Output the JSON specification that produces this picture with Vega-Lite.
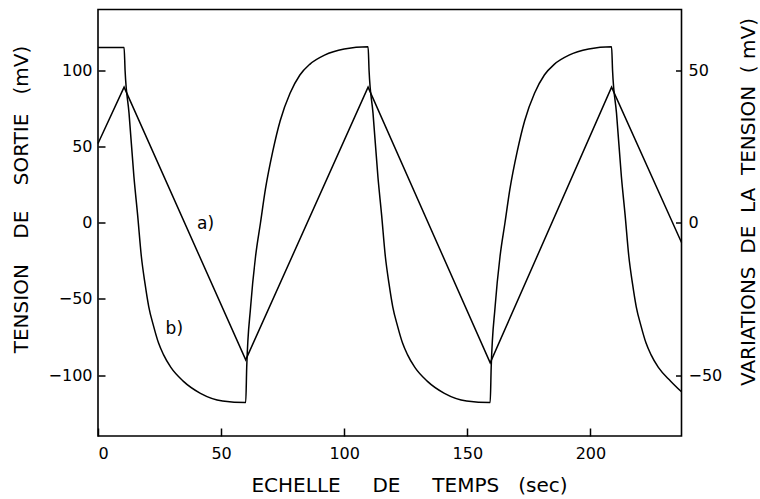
{
  "$schema": "https://vega.github.io/schema/vega-lite/v6.json",
  "width": 583.5,
  "height": 426.5,
  "autosize": "none",
  "padding": {"left": 98, "top": 9.5, "right": 78.5, "bottom": 63},
  "background": "white",
  "config": {
    "font": "DejaVu Sans",
    "view": {"stroke": "black", "strokeWidth": 1.6},
    "axis": {
      "grid": false,
      "domain": false,
      "tickColor": "black",
      "tickWidth": 1.5,
      "labelColor": "black",
      "titleColor": "black",
      "labelFont": "DejaVu Sans",
      "titleFont": "DejaVu Sans",
      "labelFontSize": 16,
      "titleFontSize": 20,
      "titleFontWeight": "normal",
      "titleBaseline": "middle",
      "titleAlign": "center"
    }
  },
  "datasets": {
    "a": [
      {"t": 0, "v": 52}, {"t": 10.6, "v": 89}, {"t": 60, "v": -90}, {"t": 109.7, "v": 89},
      {"t": 159.3, "v": -92}, {"t": 208.6, "v": 89}, {"t": 237, "v": -13}
    ],
    "b": [
      {"t": 0, "v": 115}, {"t": 10.6, "v": 115},
      {"t": 11.0, "v": 100}, {"t": 12.6, "v": 72}, {"t": 14.6, "v": 30}, {"t": 16.1, "v": 5},
      {"t": 17.6, "v": -22}, {"t": 19.1, "v": -40}, {"t": 20.6, "v": -55}, {"t": 22.6, "v": -68},
      {"t": 24.6, "v": -79}, {"t": 26.6, "v": -86.6}, {"t": 29.6, "v": -95}, {"t": 34.6, "v": -104},
      {"t": 41.6, "v": -112}, {"t": 50.6, "v": -117}, {"t": 60.0, "v": -118},
      {"t": 60.4, "v": -95}, {"t": 62, "v": -55}, {"t": 64, "v": -22}, {"t": 66, "v": 0},
      {"t": 68, "v": 22}, {"t": 71, "v": 47}, {"t": 74, "v": 67}, {"t": 78, "v": 85},
      {"t": 82, "v": 97}, {"t": 86, "v": 104}, {"t": 92, "v": 110}, {"t": 100, "v": 114},
      {"t": 109.7, "v": 115.5},
      {"t": 110.1, "v": 100}, {"t": 111.7, "v": 72}, {"t": 113.7, "v": 30}, {"t": 115.2, "v": 5},
      {"t": 116.7, "v": -22}, {"t": 118.2, "v": -40}, {"t": 119.7, "v": -55}, {"t": 121.7, "v": -68},
      {"t": 123.7, "v": -79}, {"t": 125.7, "v": -86.6}, {"t": 128.7, "v": -95}, {"t": 133.7, "v": -104},
      {"t": 140.7, "v": -112}, {"t": 149.7, "v": -117}, {"t": 159.3, "v": -118},
      {"t": 159.7, "v": -95}, {"t": 161.3, "v": -55}, {"t": 163.3, "v": -22}, {"t": 165.3, "v": 0},
      {"t": 167.3, "v": 22}, {"t": 170.3, "v": 47}, {"t": 173.3, "v": 67}, {"t": 177.3, "v": 85},
      {"t": 181.3, "v": 97}, {"t": 185.3, "v": 104}, {"t": 191.3, "v": 110}, {"t": 199.3, "v": 114},
      {"t": 208.6, "v": 115.5},
      {"t": 209.0, "v": 100}, {"t": 210.6, "v": 72}, {"t": 212.6, "v": 30}, {"t": 214.1, "v": 5},
      {"t": 215.6, "v": -22}, {"t": 217.1, "v": -40}, {"t": 218.6, "v": -55}, {"t": 220.6, "v": -68},
      {"t": 222.6, "v": -79}, {"t": 224.6, "v": -86.6}, {"t": 227.6, "v": -95}, {"t": 232.6, "v": -104},
      {"t": 237, "v": -111}
    ],
    "labels": [
      {"t": 43.7, "v": -1, "label": "a)"},
      {"t": 31, "v": -70, "label": "b)"}
    ],
    "right": [{"r": -70}, {"r": 70}]
  },
  "layer": [
    {
      "encoding": {
        "x": {
          "field": "t", "type": "quantitative",
          "scale": {"domain": [0, 237], "nice": false, "zero": false},
          "axis": {"values": [0, 50, 100, 150, 200], "tickSize": -8, "labelPadding": 17,
                   "titleX": 311, "titleY": 49,
                   "title": "ECHELLE\u00a0\u00a0\u00a0\u00a0 DE\u00a0\u00a0\u00a0\u00a0 TEMPS\u00a0\u00a0 (sec)"}
        },
        "y": {
          "field": "v", "type": "quantitative",
          "scale": {"domain": [-140, 140], "nice": false, "zero": false},
          "axis": {"values": [-100, -50, 0, 50, 100], "tickSize": -7, "labelPadding": 13,
                   "titleX": -77, "titleY": 189.5, "titleAngle": 270,
                   "title": "TENSION\u00a0\u00a0\u00a0 DE\u00a0\u00a0\u00a0 SORTIE\u00a0\u00a0 (mV)"}
        }
      },
      "layer": [
        {"data": {"name": "a"}, "mark": {"type": "line", "color": "black", "strokeWidth": 1.5, "interpolate": "linear"}},
        {"data": {"name": "b"}, "mark": {"type": "line", "color": "black", "strokeWidth": 1.5, "interpolate": "monotone"}},
        {"data": {"name": "labels"}, "mark": {"type": "text", "color": "black", "fontSize": 17, "font": "DejaVu Sans"},
         "encoding": {"text": {"field": "label"}}}
      ]
    },
    {
      "data": {"name": "right"},
      "mark": {"type": "point", "opacity": 0},
      "encoding": {
        "y": {
          "field": "r", "type": "quantitative",
          "scale": {"domain": [-70, 70], "nice": false, "zero": false},
          "axis": {"orient": "right", "values": [-50, 0, 50], "tickSize": -6, "labelPadding": 12.5,
                   "titleX": 66.5, "titleY": 192, "titleAngle": 270,
                   "title": "VARIATIONS\u00a0 DE\u00a0 LA\u00a0 TENSION\u00a0 (\u00a0mV)"}
        }
      }
    }
  ],
  "resolve": {"scale": {"y": "independent"}, "axis": {"y": "independent"}}
}
